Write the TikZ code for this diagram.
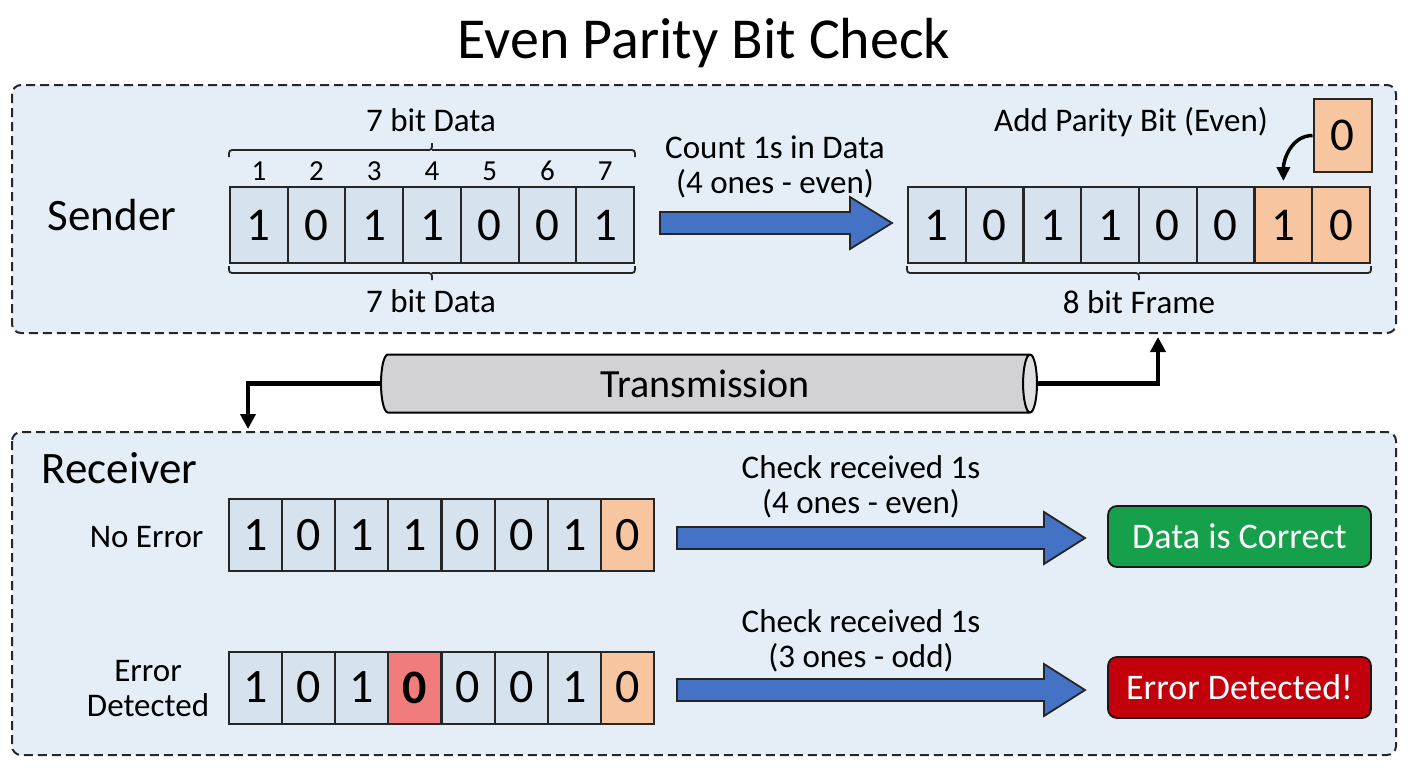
\documentclass[tikz,border=0pt]{standalone}
\usepackage{fontspec}
\setmainfont{Carlito}
\usetikzlibrary{shapes.geometric,arrows.meta}
\definecolor{panelblue}{HTML}{E5EEF7}
\definecolor{cellblue}{HTML}{D6E3EE}
\definecolor{parorange}{HTML}{F7C6A1}
\definecolor{errred}{HTML}{F07C7C}
\definecolor{arrblue}{HTML}{4472C4}
\definecolor{okgreen}{HTML}{17A04C}
\definecolor{badred}{HTML}{C2000B}
\definecolor{pipegray}{HTML}{D2D2D4}
\newcommand\fatarrow[4]{%
  \filldraw[fatarrow] (#1,{#4-11}) -- (#2,{#4-11}) -- (#2,{#4-26}) -- (#3,#4)
    -- (#2,{#4+26}) -- (#2,{#4+11}) -- (#1,{#4+11}) -- cycle;}
\begin{document}
\begin{tikzpicture}[x=1bp,y=-1bp,
  panel/.style={draw=black!85, line width=2bp, dash pattern=on 9bp off 5bp, rounded corners=9bp, fill=panelblue},
  cell/.style={draw=black!85, line width=2bp, fill=cellblue, minimum width=57.7bp, minimum height=76bp, inner sep=0pt, font=\fontsize{47bp}{47bp}\selectfont},
  rcell/.style={cell, minimum width=53.1bp, minimum height=72bp, font=\fontsize{48bp}{48bp}\selectfont},
  par/.style={fill=parorange},
  idx/.style={font=\fontsize{29bp}{29bp}\selectfont},
  lbl/.style={font=\fontsize{33bp}{35bp}\selectfont, align=center},
  head/.style={font=\fontsize{45bp}{45bp}\selectfont},
  fatarrow/.style={fill=arrblue, draw=black!85, line width=1.8bp, line join=miter},
  brace/.style={draw=black!85, line width=1.8bp, rounded corners=3bp},
  conn/.style={draw=black, line width=4.5bp, -{Triangle[length=15bp,width=15bp]}},
  result/.style={draw=black!90, line width=1.8bp, rounded corners=9bp, minimum width=263bp, minimum height=61bp, text=white, font=\fontsize{36bp}{36bp}\selectfont}
]
\useasboundingbox (0,0) rectangle (1408,768);
\fill[white] (0,0) rectangle (1408,768);

% title
\node[font=\fontsize{58bp}{58bp}\selectfont] (title) at (704,43) {Even Parity Bit Check};

% panels
\draw[panel] (12,85) rectangle (1396,333);
\draw[panel] (12,432) rectangle (1396,755);

\node[head] (sender) at (112,215) {Sender};
\node[head, anchor=west] (receiver) at (38,468) {Receiver};

% sender data
\foreach \b [count=\i] in {1,0,1,1,0,0,1} {
  \node[cell] (L\i) at ({230+57.71*(\i-0.5)},225) {\b};
  \node[idx] (N\i) at ({230+57.71*(\i-0.5)},171) {\i};
}
\draw[brace] (L1.north west |- 0,157) |- (L4.north |- 0,150) -- (L4.north |- 0,143);
\draw[brace] (L4.north |- 0,150) -| (L7.north east |- 0,157);
\node[lbl] (d7top) at (431,120) {7 bit Data};
\draw[brace] (L1.south west |- 0,266) |- (L4.south |- 0,273) -- (L4.south |- 0,280);
\draw[brace] (L4.south |- 0,273) -| (L7.south east |- 0,266);
\node[lbl] (d7bot) at (431,301) {7 bit Data};

% count arrow
\fatarrow{660}{850}{892}{223}
\node[lbl] (count) at (775,167) {Count 1s in Data\\(4 ones - even)};

% frame
\foreach \b [count=\i] in {1,0,1,1,0,0,1,0} {
  \ifnum\i>6
    \node[cell,par] (F\i) at ({908+57.75*(\i-0.5)},225) {\b};
  \else
    \node[cell] (F\i) at ({908+57.75*(\i-0.5)},225) {\b};
  \fi
}
\node[cell,par, minimum width=58bp, minimum height=73bp] (P) at (1342.5,135.5) {0};
\node[lbl] (addpar) at (1131,122) {Add Parity Bit (Even)};
\draw[line width=3.5bp, -{Triangle[length=14bp,width=13bp]}] (P.west) to[out=180,in=90] ([yshift=5bp]F7.north);
\draw[brace] (F1.south west |- 0,266) |- (1139,273) -- (1139,280);
\draw[brace] (1139,273) -| (F8.south east |- 0,266);
\node[lbl] (frame) at (1139,302) {8 bit Frame};

% transmission
\node[cylinder, shape border rotate=0, draw=black, line width=2bp, aspect=0.5,
  cylinder uses custom fill, cylinder body fill=pipegray, cylinder end fill=pipegray!70,
  minimum width=58bp, minimum height=656bp, inner sep=0pt,
  font=\fontsize{40bp}{40bp}\selectfont] (pipe) at (705,383.5) {Transmission};
\coordinate (rx) at (248,429);
\coordinate (sx) at (1158,337);
\draw[conn] (pipe.west) -| (rx);
\draw[conn] (pipe.east) -| (sx);

% receiver rows
\node[lbl, anchor=east] (noerr) at (207,537) {No Error};
\node[lbl] (errlbl) at (148,689) {Error\\Detected};
\foreach \b [count=\i] in {1,0,1,1,0,0,1,0} {
  \ifnum\i=8
    \node[rcell,par] (A\i) at ({229+53.125*(\i-0.5)},535) {\b};
  \else
    \node[rcell] (A\i) at ({229+53.125*(\i-0.5)},535) {\b};
  \fi
}
\foreach \b [count=\i] in {1,0,1,0,0,0,1,0} {
  \ifnum\i=8
    \node[rcell,par] (B\i) at ({229+53.125*(\i-0.5)},687.5) {\b};
  \else\ifnum\i=4
    \node[rcell,fill=errred] (B\i) at ({229+53.125*(\i-0.5)},687.5) {\textbf{\b}};
  \else
    \node[rcell] (B\i) at ({229+53.125*(\i-0.5)},687.5) {\b};
  \fi\fi
}

\fatarrow{677}{1044}{1085}{538}
\fatarrow{677}{1044}{1085}{690}
\node[lbl] (chk1) at (861,487) {Check received 1s\\(4 ones - even)};
\node[lbl] (chk2) at (861,641) {Check received 1s\\(3 ones - odd)};

\node[result, fill=okgreen] (ok) at (1239.5,536.5) {Data is Correct};
\node[result, fill=badred] (bad) at (1239.5,687.5) {Error Detected!};
\end{tikzpicture}
\end{document}
